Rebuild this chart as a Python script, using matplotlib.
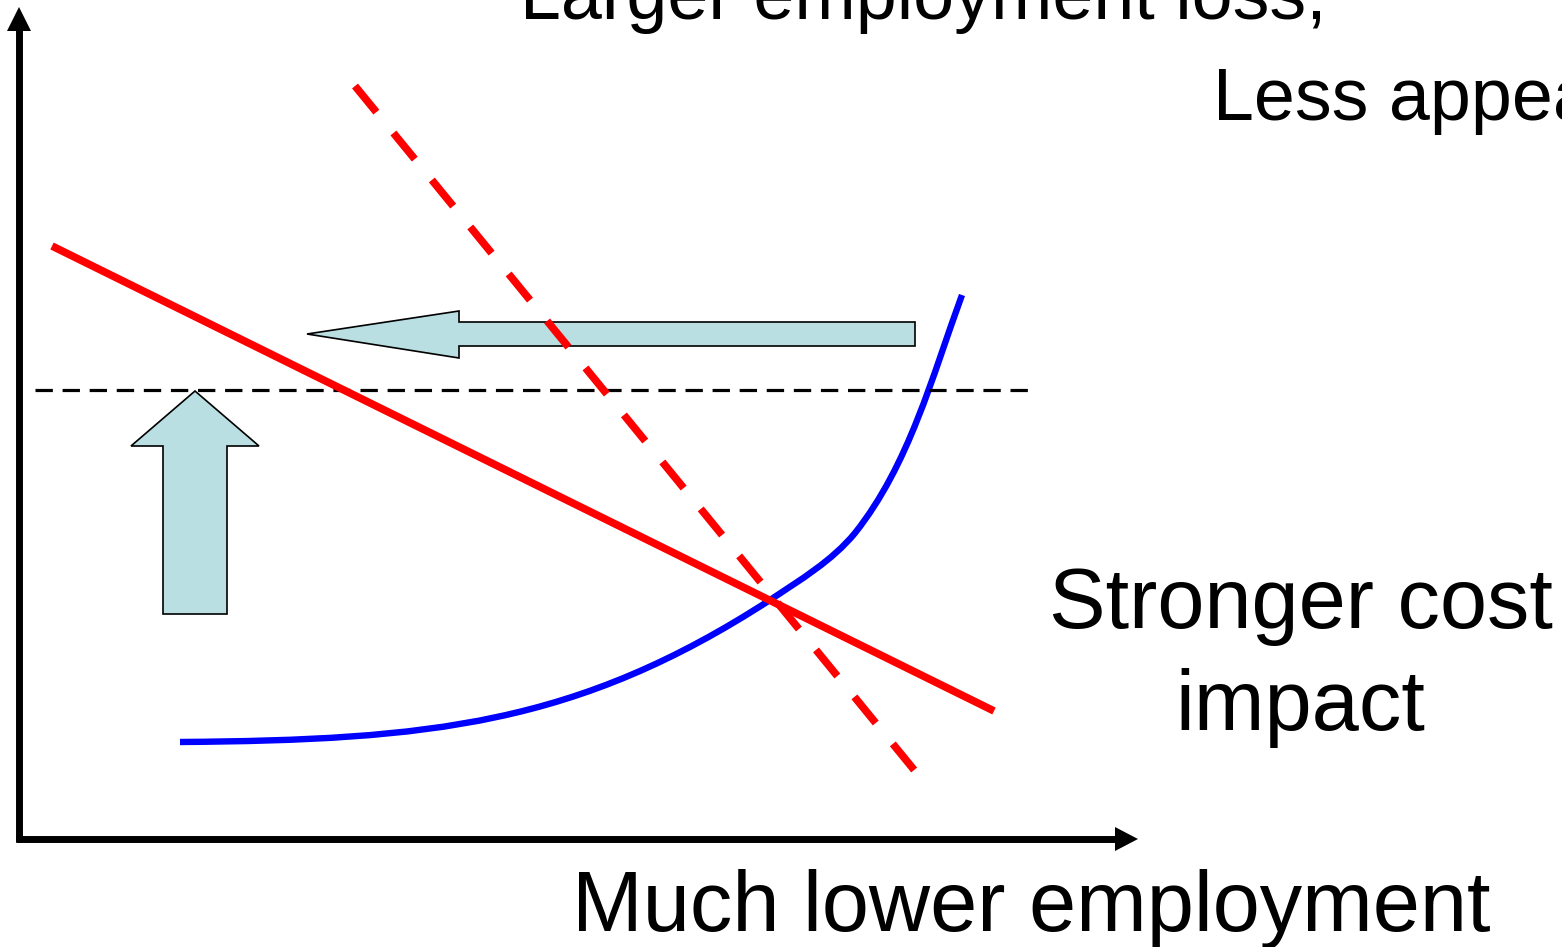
import matplotlib
matplotlib.use("Agg")
import matplotlib.pyplot as plt
from matplotlib.patches import Polygon, PathPatch
from matplotlib.path import Path

plt.rcParams['font.family'] = ['Liberation Sans', 'DejaVu Sans']
plt.rcParams['lines.scale_dashes'] = False

# ---- diagram data (pixel-space coordinates of the schematic) ----
# solid red line (demand-like curve)
red_solid_x = [52, 994]
red_solid_y = [246, 711]
# dashed red line (steeper curve)
red_dash_x = [355, 915]
red_dash_y = [86, 771]
# blue convex curve: cubic Bezier anchors and control points
blue_x = [180, 430, 577, 770, 800, 832, 855, 909, 932, 962]
blue_y = [742, 740, 725, 600, 580, 561, 533, 465, 377, 295]
# horizontal dashed reference level
ref_x = [35, 1032]
ref_y = [390, 390]
# up arrow outline
up_arrow_x = [195, 259, 227, 227, 163, 163, 131]
up_arrow_y = [391, 446, 446, 614, 614, 446, 446]
# left arrow outline
left_arrow_x = [307, 459, 459, 915, 915, 459, 459]
left_arrow_y = [334, 311, 322, 322, 346, 346, 358]

labels = {
    "top1": "Larger employment loss,",
    "top2": "Less appealing",
    "right1": "Stronger cost",
    "right2": "impact",
    "bottom": "Much lower employment",
}

W, H = 1562, 947
fig = plt.figure(figsize=(W / 100, H / 100), dpi=100)
ax = fig.add_axes([0, 0, 1, 1])
ax.set_xlim(0, W)
ax.set_ylim(H, 0)
ax.axis('off')

# axes with arrows
ax.plot([19, 19], [842, 28], color='black', lw=5, solid_capstyle='butt')
ax.add_patch(Polygon([[19, 7], [7, 31], [31, 31]], closed=True, color='black', lw=0))
ax.plot([16, 1117], [839, 839], color='black', lw=5, solid_capstyle='butt')
ax.add_patch(Polygon([[1138, 839], [1115, 827], [1115, 851]], closed=True, color='black', lw=0))

# reference dashed line
ax.plot(ref_x, ref_y, color='black', lw=2.3, dashes=(12.5, 7.0))

# block arrows
fill = '#BADFE2'
ax.add_patch(Polygon(list(zip(up_arrow_x, up_arrow_y)), closed=True,
                     facecolor=fill, edgecolor='black', lw=1.2, joinstyle='miter'))
ax.add_patch(Polygon(list(zip(left_arrow_x, left_arrow_y)), closed=True,
                     facecolor=fill, edgecolor='black', lw=1.2, joinstyle='miter'))

# curves
ax.plot(red_solid_x, red_solid_y, color='#FF0000', lw=5.5, solid_capstyle='butt')
ax.plot(red_dash_x, red_dash_y, color='#FF0000', lw=5.5, dashes=(24.3, 19.4), dash_capstyle='butt')
codes = [Path.MOVETO] + [Path.CURVE4] * (len(blue_x) - 1)
blue_path = Path(list(zip(blue_x, blue_y)), codes)
ax.add_patch(PathPatch(blue_path, facecolor='none', edgecolor='#0000FF', lw=4.6, capstyle='butt'))

# texts
ax.text(520, 19, labels["top1"], fontsize=53, ha='left', va='baseline')
ax.text(1213, 120, labels["top2"], fontsize=53, ha='left', va='baseline')
ax.text(1301, 628, labels["right1"], fontsize=61, ha='center', va='baseline')
ax.text(1300, 730, labels["right2"], fontsize=61, ha='center', va='baseline')
ax.text(572, 931, labels["bottom"], fontsize=61, ha='left', va='baseline')

fig.savefig('out.png', dpi=100)
